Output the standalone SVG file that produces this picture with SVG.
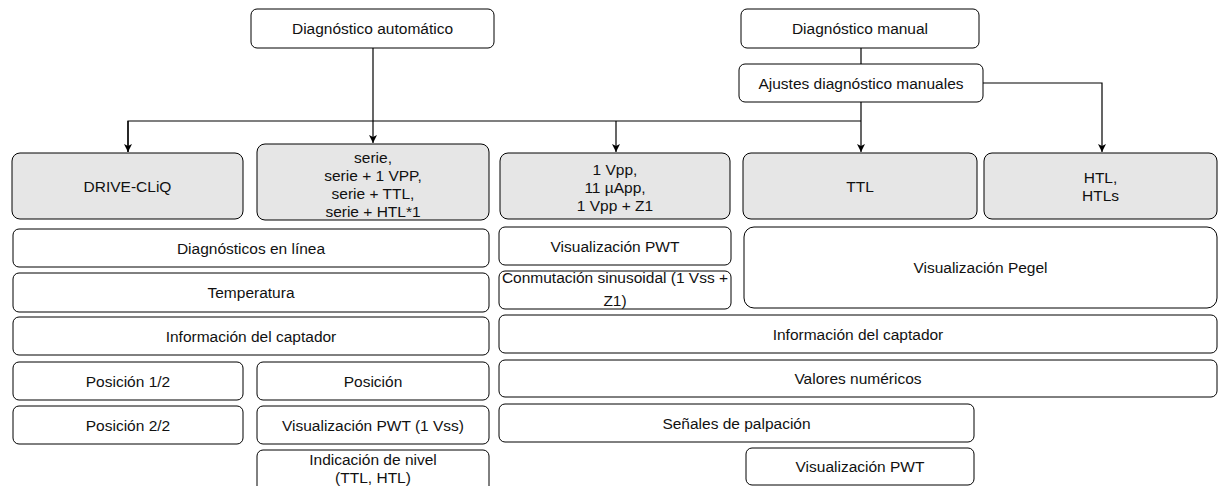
<svg xmlns="http://www.w3.org/2000/svg" width="1218" height="486" viewBox="0 0 1218 486">
<defs>
<style>
.b{fill:#ffffff;stroke:#000;stroke-width:1}
.g{fill:#e6e6e6;stroke:#000;stroke-width:1}
text{font-family:"Liberation Sans",Arial,sans-serif;font-size:15.5px;fill:#111;text-anchor:middle}
.c{fill:none;stroke:#000;stroke-width:1.2}
</style>
<marker id="ah" markerWidth="10" markerHeight="10" refX="9" refY="5" orient="auto" markerUnits="userSpaceOnUse">
<path d="M1,1 L9,5 L1,9 L3,5 Z" fill="#000"/>
</marker>
</defs>
<rect width="1218" height="486" fill="#fff"/>
<g id="connectors">
<path class="c" d="M373,48 V143" marker-end="url(#ah)"/>
<path class="c" d="M861,48 V64"/>
<path class="c" d="M861,102 V152" marker-end="url(#ah)"/>
<path class="c" d="M128,152 V121 H861"/>
<path class="c" d="M128,121 V152" marker-end="url(#ah)"/>
<path class="c" d="M616,121 V152" marker-end="url(#ah)"/>
<path class="c" d="M983,83 H1102 V152" marker-end="url(#ah)"/>
</g>
<g id="n-auto"><rect class="b" x="251" y="9" width="243" height="39" rx="6"/><text x="372.5" y="34">Diagnóstico automático</text></g>
<g id="n-manual"><rect class="b" x="741" y="9" width="238" height="39" rx="6"/><text x="860" y="34">Diagnóstico manual</text></g>
<g id="n-ajustes"><rect class="b" x="739" y="64" width="244" height="38" rx="6"/><text x="861" y="88.5">Ajustes diagnóstico manuales</text></g>
<g id="n-drivecliq"><rect class="g" x="12" y="153" width="231" height="66" rx="8"/><text x="127.5" y="191.5">DRIVE-CLiQ</text></g>
<g id="n-serie"><rect class="g" x="257" y="144" width="232" height="76" rx="8"/><text x="373" y="162.5">serie,</text><text x="373" y="180.5">serie + 1 VPP,</text><text x="373" y="198.5">serie + TTL,</text><text x="373" y="216.5">serie + HTL*1</text></g>
<g id="n-vpp"><rect class="g" x="500" y="153" width="230" height="66" rx="8"/><text x="615" y="174.5">1 Vpp,</text><text x="615" y="192.5">11 µApp,</text><text x="615" y="210.5">1 Vpp + Z1</text></g>
<g id="n-ttl"><rect class="g" x="743" y="153" width="234" height="66" rx="8"/><text x="860" y="191.5">TTL</text></g>
<g id="n-htl"><rect class="g" x="984" y="153" width="233" height="66" rx="8"/><text x="1100.5" y="183">HTL,</text><text x="1100.5" y="201">HTLs</text></g>
<g id="n-diag-linea"><rect class="b" x="13" y="229" width="476" height="38" rx="6"/><text x="251" y="253.5">Diagnósticos en línea</text></g>
<g id="n-temp"><rect class="b" x="13" y="273" width="476" height="39" rx="6"/><text x="251" y="298">Temperatura</text></g>
<g id="n-info-l"><rect class="b" x="13" y="317" width="476" height="38" rx="6"/><text x="251" y="341.5">Información del captador</text></g>
<g id="n-pos12"><rect class="b" x="13" y="362" width="230" height="38" rx="6"/><text x="128" y="386.5">Posición 1/2</text></g>
<g id="n-pos"><rect class="b" x="257" y="362" width="232" height="38" rx="6"/><text x="373" y="386.5">Posición</text></g>
<g id="n-pos22"><rect class="b" x="13" y="406" width="230" height="38" rx="6"/><text x="128" y="430.5">Posición 2/2</text></g>
<g id="n-pwt1vss"><rect class="b" x="257" y="406" width="232" height="38" rx="6"/><text x="373" y="430.5">Visualización PWT (1 Vss)</text></g>
<g id="n-nivel"><rect class="b" x="257" y="450" width="232" height="42" rx="6"/><text x="373" y="464.5">Indicación de nivel</text><text x="373" y="482.5">(TTL, HTL)</text></g>
<g id="n-pwt-a"><rect class="b" x="499" y="227" width="232" height="38" rx="6"/><text x="615" y="251.5">Visualización PWT</text></g>
<g id="n-conm"><rect class="b" x="499" y="271" width="232" height="38" rx="6"/><text x="615" y="282.5">Conmutación sinusoidal (1 Vss +</text><text x="615" y="306">Z1)</text></g>
<g id="n-pegel"><rect class="b" x="744" y="227" width="473" height="81" rx="10"/><text x="980.5" y="272.5">Visualización Pegel</text></g>
<g id="n-info-r"><rect class="b" x="499" y="315" width="718" height="38" rx="6"/><text x="858" y="339.5">Información del captador</text></g>
<g id="n-valores"><rect class="b" x="499" y="360" width="718" height="37" rx="6"/><text x="858" y="384">Valores numéricos</text></g>
<g id="n-senales"><rect class="b" x="499" y="404" width="475" height="38" rx="6"/><text x="736.5" y="428.5">Señales de palpación</text></g>
<g id="n-pwt-b"><rect class="b" x="746" y="448" width="228" height="37" rx="6"/><text x="860" y="472">Visualización PWT</text></g>
</svg>
